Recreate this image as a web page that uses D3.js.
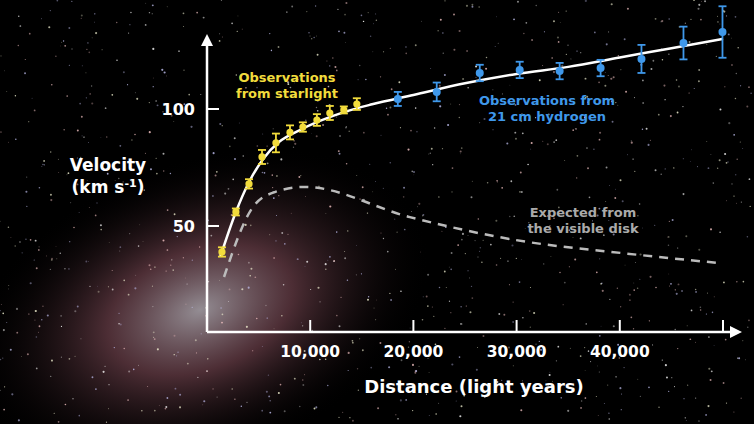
<!DOCTYPE html>
<html><head><meta charset="utf-8">
<script src="https://cdn.jsdelivr.net/npm/d3@7"></script>
<style>body{margin:0;background:#000}svg text{font-family:"DejaVu Sans",Verdana,sans-serif;font-weight:bold}</style>
</head><body><div id="chart"></div>
<script>
var svgWidth = 754, svgHeight = 424;

// data
var starDist = [1450, 2800, 4070, 5330, 6680, 8040, 9290, 10650, 11900, 13260, 14520];
var starVel = [38.9, 56, 68, 79.5, 85.5, 90, 92.3, 95.3, 98.3, 99.6, 102.1];
var starErr = [2, 1.5, 2, 3, 4, 3, 2, 2.5, 3, 1.5, 2.5];
var hiDist = [18490, 22260, 26430, 30300, 34170, 38140, 42100, 46170, 49950];
var hiVel = [104.3, 107.3, 115.4, 116.7, 116.2, 117.5, 121.4, 128.2, 132.9];
var hiErr = [3, 4, 3.5, 3.5, 3.5, 3.5, 6, 7, 11];
var fitDist = [1300, 2800, 4100, 5500, 7000, 9000, 11000, 13500, 16000, 20000, 25000, 30000, 35000, 40000, 45000, 50000];
var fitVel = [37, 56, 69, 79, 86, 91, 95, 99, 102, 106, 111, 115, 118, 122, 126, 130];
var diskDist = [1650, 4450, 6580, 9490, 19650, 29900, 40080, 49560];
var diskVel = [28.2, 58.1, 64.5, 66.7, 53.8, 44, 38.5, 34.2];
var xTicks = [10000, 20000, 30000, 40000, 50000];
var xTickLabels = ["10,000", "20,000", "30,000", "40,000", ""];
var yTicks = [50, 100];

var svg = d3.select("#chart").append("svg").attr("width", svgWidth).attr("height", svgHeight);

// background: galaxy glow + star field
var defs = svg.append("defs");
var g1 = defs.append("radialGradient").attr("id", "glow").attr("cx", "0.5").attr("cy", "0.5").attr("r", "0.5");
g1.append("stop").attr("offset", "0%").attr("stop-color", "#b8b0b8").attr("stop-opacity", 0.8);
g1.append("stop").attr("offset", "40%").attr("stop-color", "#804c58").attr("stop-opacity", 0.6);
g1.append("stop").attr("offset", "100%").attr("stop-color", "#000").attr("stop-opacity", 0);
svg.append("rect").attr("width", svgWidth).attr("height", svgHeight).attr("fill", "#000");
svg.append("ellipse").attr("cx", 200).attr("cy", 310).attr("rx", 240).attr("ry", 150)
  .attr("transform", "rotate(-20 200 310)").attr("fill", "url(#glow)");
var seed = 7;
function lcg() { seed = (seed * 16807) % 2147483647; return seed / 2147483647; }
for (var i = 0; i < 1100; i++) {
  svg.append("circle").attr("cx", lcg() * svgWidth).attr("cy", lcg() * svgHeight)
    .attr("r", 0.4 + lcg() * 0.7).attr("fill", ["#fff", "#fcc", "#ccf", "#ffd"][i % 4])
    .attr("opacity", 0.3 + lcg() * 0.5);
}

var x = d3.scaleLinear().domain([0, 50000]).range([207, 723]);
var y = d3.scaleLinear().domain([0, 100]).range([343, 109]);

// axes
svg.append("line").attr("x1", 207).attr("x2", 207).attr("y1", 332).attr("y2", 40).attr("stroke", "#fff").attr("stroke-width", 2.5);
svg.append("path").attr("d", "M201,46 L207,34 L213,46 Z").attr("fill", "#fff");
svg.append("line").attr("x1", 207).attr("x2", 735).attr("y1", 332).attr("y2", 332).attr("stroke", "#fff").attr("stroke-width", 2.5);
svg.append("path").attr("d", "M730,326 L742,332 L730,338 Z").attr("fill", "#fff");

xTicks.forEach(function (t, i) {
  svg.append("line").attr("x1", x(t)).attr("x2", x(t)).attr("y1", 332).attr("y2", 320).attr("stroke", "#fff").attr("stroke-width", 2);
  svg.append("text").attr("x", x(t)).attr("y", 357).attr("text-anchor", "middle").attr("fill", "#fff").attr("font-size", 15.5).text(xTickLabels[i]);
});
yTicks.forEach(function (t) {
  svg.append("line").attr("x1", 207).attr("x2", 219).attr("y1", y(t)).attr("y2", y(t)).attr("stroke", "#fff").attr("stroke-width", 2);
  svg.append("text").attr("x", 195).attr("y", y(t) + 6).attr("text-anchor", "end").attr("fill", "#fff").attr("font-size", 16).text(t);
});
svg.append("text").attr("x", 474).attr("y", 393).attr("text-anchor", "middle").attr("fill", "#fff").attr("font-size", 18).text("Distance (light years)");
svg.append("text").attr("x", 108).attr("y", 171).attr("text-anchor", "middle").attr("fill", "#fff").attr("font-size", 17).text("Velocity");
var vl = svg.append("text").attr("x", 108).attr("y", 193).attr("text-anchor", "middle").attr("fill", "#fff").attr("font-size", 17);
vl.append("tspan").text("(km s");
vl.append("tspan").attr("font-size", 11).attr("dy", -6).text("-1");
vl.append("tspan").attr("dy", 6).text(")");

var line = d3.line().x(function (d) { return x(d[0]); }).y(function (d) { return y(d[1]); }).curve(d3.curveMonotoneX);
svg.append("path").attr("d", line(d3.zip(diskDist, diskVel))).attr("fill", "none")
  .attr("stroke", "#bbb").attr("stroke-width", 2.5).attr("stroke-dasharray", "9,7");
svg.append("path").attr("d", line(d3.zip(fitDist, fitVel))).attr("fill", "none").attr("stroke", "#fff").attr("stroke-width", 2.5);

function points(dist, vel, err, col, r) {
  var data = dist.map(function (d, i) { return { d: d, v: vel[i], e: err[i] }; });
  var g = svg.append("g").attr("stroke", col).attr("stroke-width", 1.8);
  data.forEach(function (p) {
    g.append("line").attr("x1", x(p.d)).attr("x2", x(p.d)).attr("y1", y(p.v + p.e)).attr("y2", y(p.v - p.e));
    [p.v + p.e, p.v - p.e].forEach(function (v) {
      g.append("line").attr("x1", x(p.d) - 4).attr("x2", x(p.d) + 4).attr("y1", y(v)).attr("y2", y(v));
    });
  });
  svg.selectAll(null).data(data).enter().append("circle")
    .attr("cx", function (p) { return x(p.d); }).attr("cy", function (p) { return y(p.v); })
    .attr("r", r).attr("fill", col);
}
points(starDist, starVel, starErr, "#f2dc3c", 3.6);
points(hiDist, hiVel, hiErr, "#3f98ea", 4);

function label(lines, cx, cy, col) {
  lines.forEach(function (s, i) {
    svg.append("text").attr("x", cx).attr("y", cy + i * 16).attr("text-anchor", "middle").attr("fill", col).attr("font-size", 13).text(s);
  });
}
label(["Observations", "from starlight"], 287, 82, "#f2dc3c");
label(["Observations from", "21 cm hydrogen"], 547, 105, "#3f98ea");
label(["Expected from", "the visible disk"], 583, 217, "#aaa");
</script></body></html>
